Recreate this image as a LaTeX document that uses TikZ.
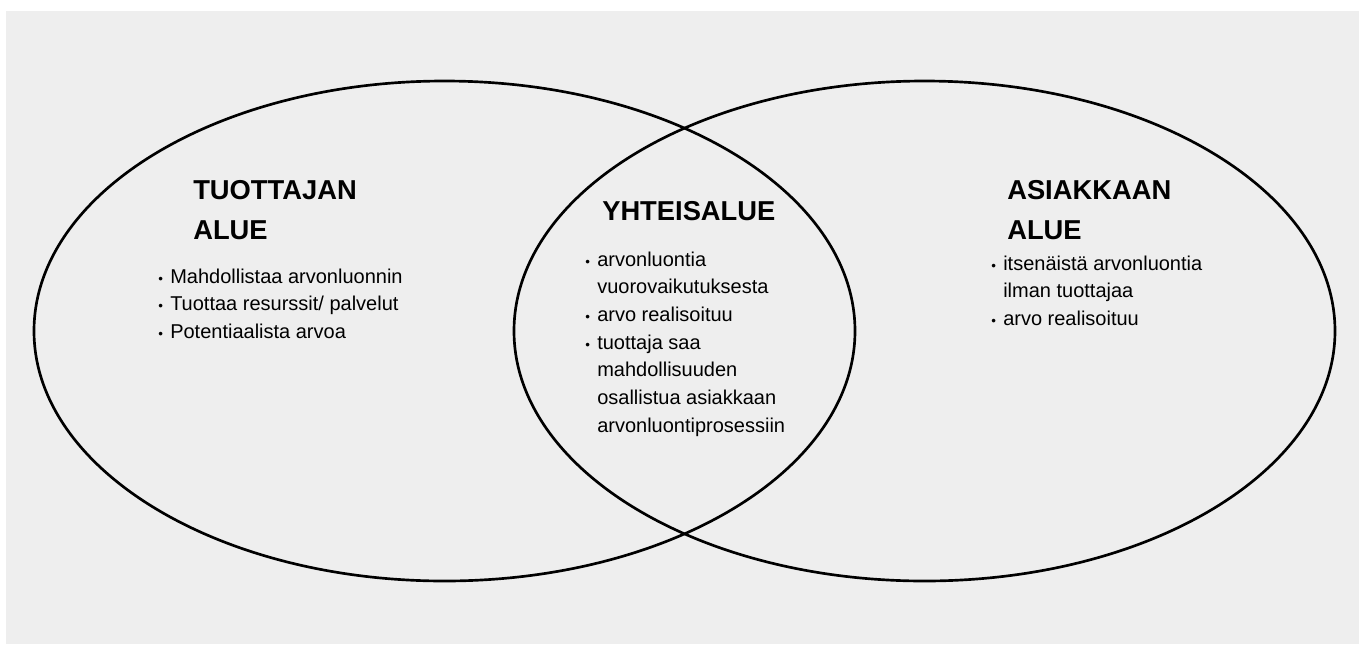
\documentclass[tikz,border=0pt]{standalone}
\usepackage{fontspec}
\setmainfont{Liberation Sans}
\definecolor{taustaharmaa}{HTML}{EEEEEE}
\newcommand{\pallo}{\makebox[9pt][l]{\fontsize{10}{10}\selectfont\textbullet}}
\newcommand{\jatko}{\hspace*{9pt}}
\tikzset{
  otsikko/.style={anchor=base west, inner sep=0pt, align=left, font=\fontsize{20.5}{30}\selectfont\bfseries},
  lista/.style={anchor=base west, inner sep=0pt, align=left, font=\fontsize{15}{20.8}\selectfont},
  alue/.style={draw=black, line width=2pt}
}
\begin{document}
\begin{tikzpicture}[x=0.75pt, y=-0.75pt]
  \useasboundingbox (0,0) rectangle (1365,644);
  \fill[taustaharmaa] (6,11) rectangle (1359,644);

  % kaksi aluetta
  \draw[alue] (444.5,331) ellipse [x radius=410.5, y radius=250];
  \draw[alue] (924.5,331) ellipse [x radius=410.5, y radius=250];

  % tuottajan alue (ankkuri = viimeisen rivin perusviiva)
  \node[otsikko] (tuottaja) at (193,239) {TUOTTAJAN\\ALUE};
  \node[lista] (tuottajalista) at (158,338.5) {
    \pallo Mahdollistaa arvonluonnin\\
    \pallo Tuottaa resurssit/ palvelut\\
    \pallo Potentiaalista arvoa
  };

  % yhteisalue
  \node[otsikko] (yhteis) at (602,220) {YHTEISALUE};
  \node[lista] (yhteislista) at (585,432.4) {
    \pallo arvonluontia\\
    \jatko vuorovaikutuksesta\\
    \pallo arvo realisoituu\\
    \pallo tuottaja saa\\
    \jatko mahdollisuuden\\
    \jatko osallistua asiakkaan\\
    \jatko arvonluontiprosessiin
  };

  % asiakkaan alue
  \node[otsikko] (asiakas) at (1007,239) {ASIAKKAAN\\ALUE};
  \node[lista] (asiakaslista) at (991,325.5) {
    \pallo itsenäistä arvonluontia\\
    \jatko ilman tuottajaa\\
    \pallo arvo realisoituu
  };
\end{tikzpicture}
\end{document}
